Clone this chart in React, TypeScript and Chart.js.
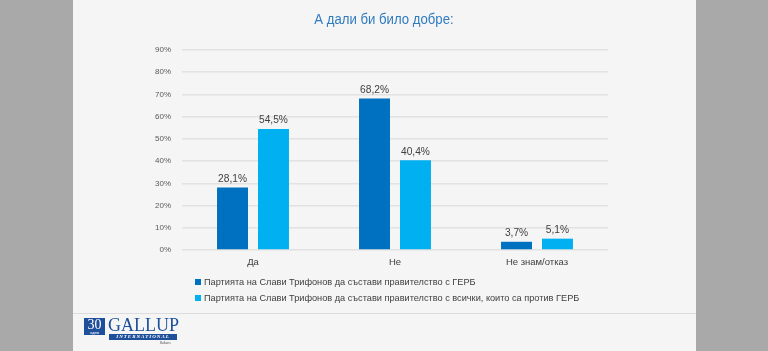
import React, { useEffect, useRef } from "react";
import { Chart, registerables } from "chart.js";

Chart.register(...registerables);

const TITLE = "А дали би било добре:";
const categories = ["Да", "Не", "Не знам/отказ"];
const seriesLabels = [
  "Партията на Слави Трифонов да състави правителство с ГЕРБ",
  "Партията на Слави Трифонов да състави правителство с всички, които са против ГЕРБ",
];
const seriesGerb = [28.1, 68.2, 3.7];
const seriesAgainst = [54.5, 40.4, 5.1];
const seriesColors = ["#0070c0", "#00b0f0"];
const yMax = 90;
const yStep = 10;

const FONT = '"Liberation Sans", Arial, sans-serif';

const fmt = (v: number) => v.toFixed(1).replace(".", ",") + "%";

const narrowTitle = {
  id: "narrowTitle",
  afterDraw(chart: any) {
    const ctx = chart.ctx;
    ctx.save();
    ctx.font = `15.5px ${FONT}`;
    ctx.fillStyle = "#2f7bbf";
    ctx.textAlign = "center";
    ctx.textBaseline = "alphabetic";
    const cx = (chart.chartArea.left + chart.chartArea.right) / 2 - 11;
    ctx.translate(cx, 23.5);
    ctx.scale(0.85, 1);
    ctx.fillText(chart.options.plugins.narrowTitle.text, 0, 0);
    ctx.restore();
  },
};

const valueLabels = {
  id: "valueLabels",
  afterDatasetsDraw(chart: any) {
    const ctx = chart.ctx;
    ctx.save();
    ctx.font = `10.2px ${FONT}`;
    ctx.fillStyle = "#404040";
    ctx.textAlign = "center";
    ctx.textBaseline = "alphabetic";
    chart.data.datasets.forEach((ds: any, i: number) => {
      const meta = chart.getDatasetMeta(i);
      meta.data.forEach((bar: any, j: number) => {
        ctx.fillText(fmt(ds.data[j]), bar.x, bar.y - 5.5);
      });
    });
    ctx.restore();
  },
};

const sideLegend = {
  id: "sideLegend",
  afterDraw(chart: any) {
    const ctx = chart.ctx;
    const a = chart.chartArea;
    ctx.save();
    ctx.font = `9.2px ${FONT}`;
    ctx.textBaseline = "middle";
    ctx.textAlign = "left";
    chart.data.datasets.forEach((ds: any, i: number) => {
      const y = a.bottom + 32 + i * 16;
      const x = a.left + 13;
      ctx.fillStyle = ds.backgroundColor;
      ctx.fillRect(x, y - 3, 6, 6);
      ctx.fillStyle = "#404040";
      ctx.fillText(ds.label, x + 9, y);
    });
    ctx.restore();
  },
};

export default function App() {
  const ref = useRef<HTMLCanvasElement>(null);
  useEffect(() => {
    if (!ref.current) return;
    const chart = new Chart(ref.current, {
      type: "bar",
      data: {
        labels: categories,
        datasets: [
          { label: seriesLabels[0], data: seriesGerb, backgroundColor: seriesColors[0] },
          { label: seriesLabels[1], data: seriesAgainst, backgroundColor: seriesColors[1] },
        ],
      },
      options: {
        animation: false,
        responsive: false,
        devicePixelRatio: 1,
        layout: { padding: { left: 152, right: 160, bottom: 81, top: 50 } },
        plugins: {
          legend: { display: false },
          tooltip: { enabled: false },
          title: { display: false },
          narrowTitle: { text: TITLE },
        },
        datasets: { bar: { categoryPercentage: 0.577, barPercentage: 0.756 } },
        scales: {
          x: {
            grid: { display: false, drawTicks: false },
            border: { display: false },
            ticks: { color: "#404040", font: { family: FONT, size: 9.5 }, padding: 7 },
            afterFit: (s: any) => { s.height = 20; },
          },
          y: {
            min: 0,
            max: yMax,
            grid: { color: "#e2e2e2", lineWidth: 1.5, drawTicks: false },
            border: { display: false },
            ticks: {
              stepSize: yStep,
              color: "#595959",
              font: { family: FONT, size: 8 },
              padding: 11,
              callback: (v: any) => `${v}%`,
            },
            afterFit: (s: any) => { s.width = 30; },
          },
        },
      } as any,
      plugins: [valueLabels, sideLegend, narrowTitle],
    });
    return () => chart.destroy();
  }, []);

  return (
    <div style={{ position: "fixed", left: 0, top: 0, width: 768, height: 351, background: "#a9a9a9", overflow: "hidden" }}>
      <div style={{ position: "absolute", left: 73, top: 0, width: 623, height: 351, background: "#f5f5f5" }} />
      <div style={{ position: "absolute", left: 73, top: 313, width: 623, height: 1, background: "#dcdcdc" }} />
      <canvas ref={ref} width={768} height={351} style={{ position: "absolute", left: 0, top: 0, width: 768, height: 351 }} />
      <div style={{ position: "absolute", left: 84, top: 318, width: 21, height: 17, background: "#1d4f9a", color: "#fff", fontFamily: '"Liberation Serif", serif', fontSize: 14, lineHeight: "13px", textAlign: "center" }}>
        30
        <div style={{ fontSize: 3, lineHeight: "4px", fontFamily: FONT }}>години</div>
      </div>
      <div style={{ position: "absolute", left: 108, top: 316, color: "#1d4f9a", fontFamily: '"Liberation Serif", serif', fontSize: 18, lineHeight: "18px", letterSpacing: 0 }}>GALLUP</div>
      <div style={{ position: "absolute", left: 109, top: 334, width: 68, height: 6, background: "#1d4f9a", color: "#fff", fontFamily: '"Liberation Serif", serif', fontStyle: "italic", fontWeight: "bold", fontSize: 5, lineHeight: "6px", textAlign: "center", letterSpacing: 1 }}>INTERNATIONAL</div>
      <div style={{ position: "absolute", left: 160, top: 341, color: "#555", fontFamily: FONT, fontSize: 3, lineHeight: "4px" }}>Balkans</div>
    </div>
  );
}
